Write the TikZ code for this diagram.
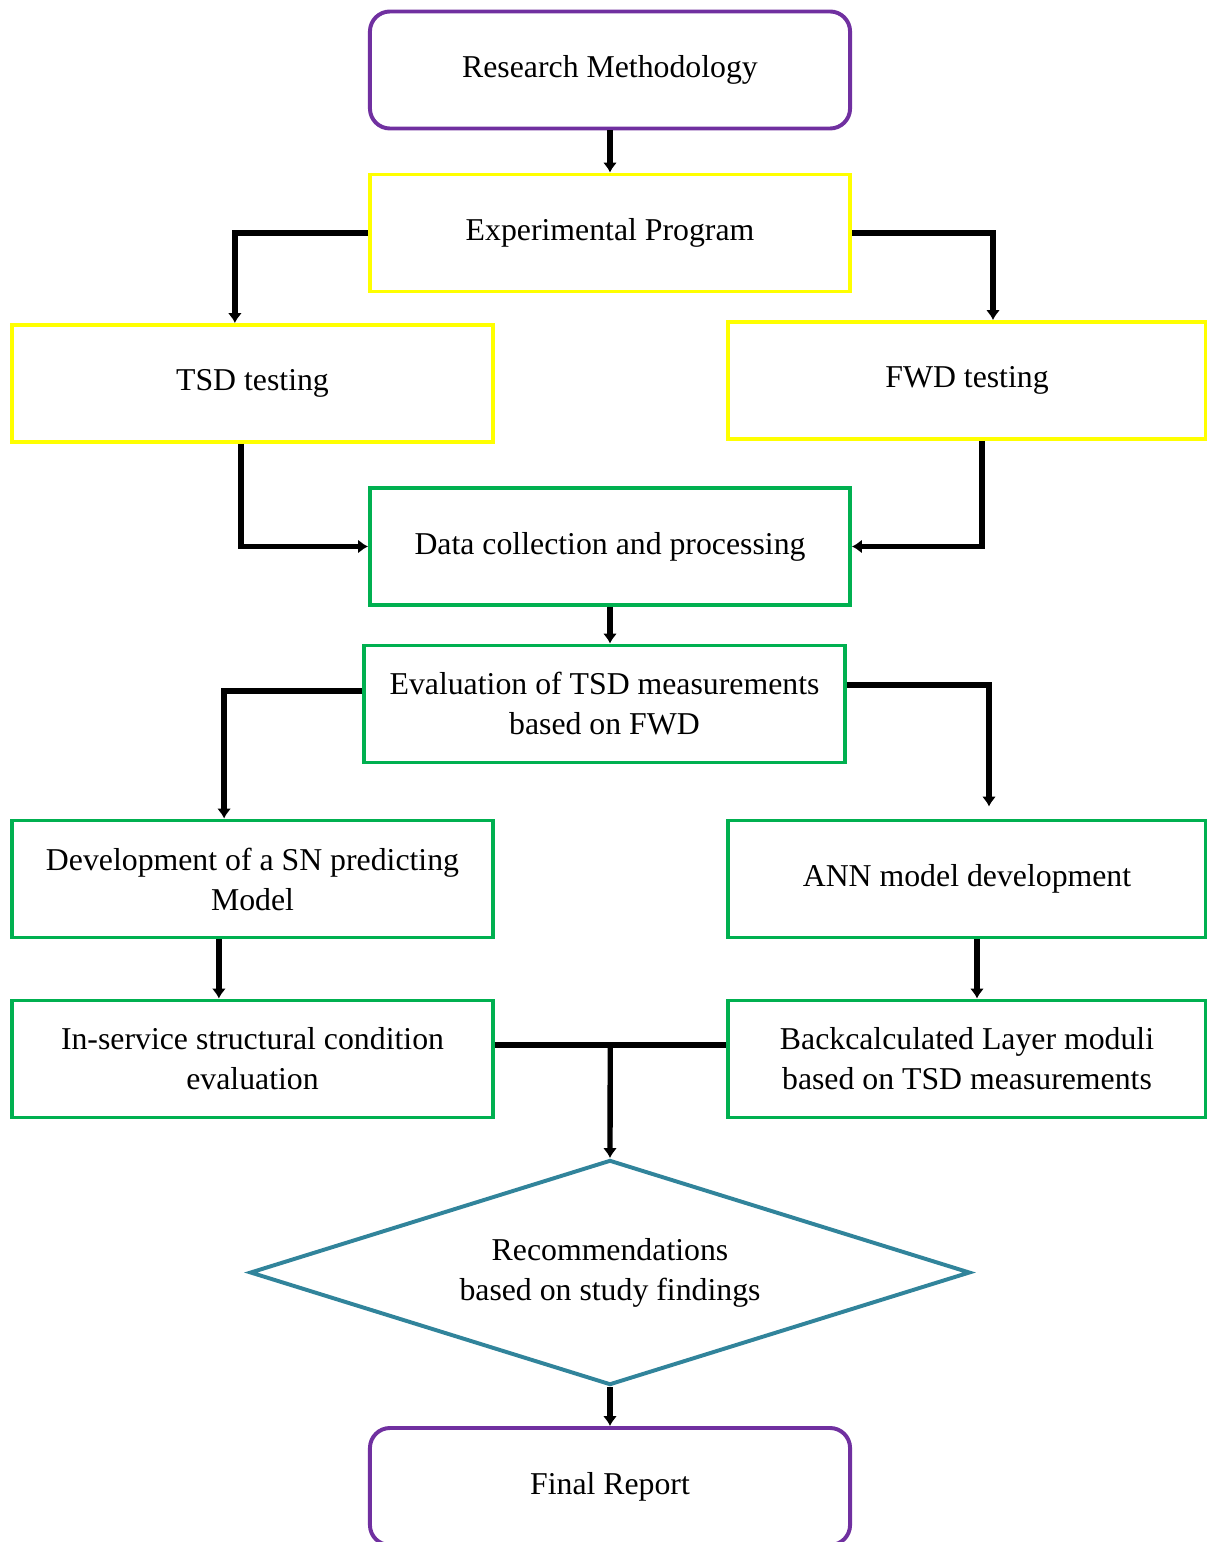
\documentclass[tikz,border=0pt]{standalone}
\usepackage{fontspec}
\setmainfont{Liberation Serif}
\usepackage{tikz}
\usetikzlibrary{arrows.meta}
\usetikzlibrary{shapes.geometric}
\definecolor{boxpurple}{HTML}{7030A0}
\definecolor{boxyellow}{HTML}{FFFF00}
\definecolor{boxgreen}{HTML}{00B050}
\definecolor{boxteal}{HTML}{31849B}
\tikzset{>={Latex[length=7pt,width=10pt]}}
\tikzstyle{block} = [draw, rectangle, line width=2.8pt, align=center,
    minimum height=2.925cm, minimum width=12cm, inner sep=0pt,
    font=\fontsize{22.6}{28.5}\selectfont]
\tikzstyle{terminal} = [block, draw=boxpurple, rounded corners=0.5cm]
\tikzstyle{stage} = [block, draw=boxyellow]
\tikzstyle{task} = [block, draw=boxgreen]
\tikzstyle{decision} = [draw=boxteal, diamond, line width=2.8pt, align=center,
    minimum width=18cm, minimum height=5.625cm, inner sep=0pt, aspect=3.2,
    font=\fontsize{22.6}{28.5}\selectfont]
\tikzstyle{flow} = [draw, line width=3.8pt]

\begin{document}
\begin{tikzpicture}[x=0.025cm, y=-0.025cm]
    \useasboundingbox (0,0) rectangle (1207,1542);
    \clip (0,0) rectangle (1207,1542);
    % blocks, top to bottom
    \node [terminal] (method) at (610,70) {Research Methodology};
    \node [stage] (program) at (610,233) {Experimental Program};
    \node [stage] (tsd) at (252.5,383.5) {TSD testing};
    \node [stage, minimum width=11.95cm] (fwd) at (967,380.5) {FWD testing};
    \node [task] (data) at (610,546.5) {Data collection and processing};
    \node [task] (eval) at (604.5,704) {Evaluation of TSD measurements\\based on FWD};
    \node [task] (sn) at (252.5,879) {Development of a SN predicting\\Model};
    \node [task, minimum width=11.95cm] (ann) at (967,879) {ANN model development};
    \node [task] (inservice) at (252.5,1059) {In-service structural condition\\evaluation};
    \node [task, minimum width=11.95cm] (moduli) at (967,1059) {Backcalculated Layer moduli\\based on TSD measurements};
    \node [decision] (recom) at (610,1272.5) {Recommendations\\based on study findings};
    \node [terminal] (report) at (610,1486.5) {Final Report};

    % connectors
    \draw [flow,->] (method) -- (program);
    \draw [flow,->] (program.west) -| ([xshift=-0.44cm]tsd.north);
    \draw [flow,->] (program.east) -| ([xshift=0.65cm]fwd.north);
    \draw [flow,->] ([xshift=-0.29cm]tsd.south) |- (data.west);
    \draw [flow,->] ([xshift=0.375cm]fwd.south) |- (data.east);
    \draw [flow,->] (data.south) -- (data.south |- eval.north);
    \draw [flow,->] ([yshift=0.325cm]eval.west) -| ([xshift=-0.71cm]sn.north);
    \draw [flow,->,shorten >=0.3cm] ([yshift=0.475cm]eval.east) -| ([xshift=0.55cm]ann.north);
    \draw [flow,->] ([xshift=-0.84cm]sn.south) -- ([xshift=-0.84cm]inservice.north);
    \draw [flow,->] ([xshift=0.25cm]ann.south) -- ([xshift=0.25cm]moduli.north);
    \draw [flow] ([yshift=0.35cm]inservice.east) -- ([yshift=0.35cm]moduli.west)
        coordinate [pos=0.5] (join);
    \draw [flow,->] (join) -- (recom.north);
    \draw [flow,->] (recom.south) -- (report.north);
\end{tikzpicture}
\end{document}
